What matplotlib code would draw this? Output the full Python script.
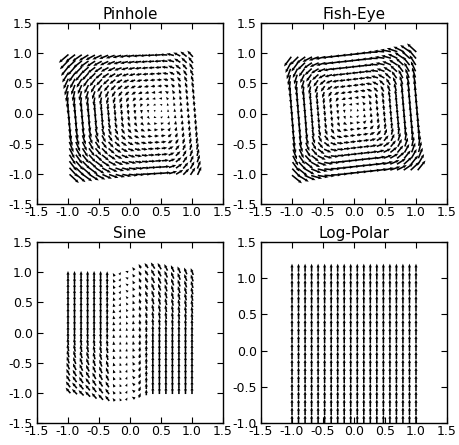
import numpy as np
import matplotlib
matplotlib.use('Agg')
import matplotlib.pyplot as plt

plt.rcParams['font.family'] = ['DejaVu Sans']
plt.rcParams['axes.unicode_minus'] = False

# ---------------- data ----------------
titles = ['Pinhole', 'Fish-Eye', 'Sine', 'Log-Polar']
ticks = [-1.5, -1.0, -0.5, 0.0, 0.5, 1.0, 1.5]
tick_labels = ['-1.5', '-1.0', '-0.5', '0.0', '0.5', '1.0', '1.5']
lp_yticks = [-1.0, -0.5, 0.0, 0.5, 1.0, 1.5]
lp_ytick_labels = ['-1.0', '-0.5', '0.0', '0.5', '1.0', '1.5']

# 20 sample columns / rows of the grid
grid = [-1.0, -0.895, -0.789, -0.684, -0.579, -0.474, -0.368, -0.263, -0.158, -0.053,
        0.053, 0.158, 0.263, 0.368, 0.474, 0.579, 0.684, 0.789, 0.895, 1.0]

# Pinhole / Fish-Eye: corners of sampled quad (TL, TR, BR, BL), vortex centre, tilt
pinhole_corners = [(-1.07, 0.91), (0.97, 0.99), (1.12, -0.95), (-0.90, -1.08)]
pinhole_center = (0.48, 0.05)
pinhole_tilt = 0.064
pinhole_extent = (1.3, 0.6, 0.9, 1.1)      # left, right, top, bottom
fisheye_corners = [(-1.07, 0.86), (0.93, 1.09), (1.09, -0.86), (-0.92, -1.09)]
fisheye_center = (0.0, 0.02)
fisheye_tilt = 0.095
fisheye_extent = (1.0, 1.0, 1.0, 1.0)

# Sine: per column arrow length, top raise, bottom drop, top tilt, bottom tilt
sine_len = [0.12, 0.12, 0.12, 0.12, 0.12, 0.12, 0.11, 0.06, 0.05, 0.05,
            0.06, 0.08, 0.10, 0.12, 0.12, 0.12, 0.12, 0.12, 0.12, 0.12]
sine_raise = [0.0, 0.0, 0.0, 0.0, 0.0, 0.0, 0.0, 0.0, 0.02, 0.05,
              0.10, 0.14, 0.15, 0.15, 0.14, 0.12, 0.10, 0.08, 0.06, 0.05]
sine_drop = [0.0, 0.02, 0.04, 0.06, 0.09, 0.11, 0.13, 0.15, 0.15, 0.14,
             0.12, 0.08, 0.03, 0.0, 0.0, 0.0, 0.0, 0.0, 0.0, 0.0]
sine_top_tilt = [0.0, 0.0, 0.0, 0.0, 0.0, 0.0, 0.0, 0.5, -0.6, 1.2,
                 0.6, 0.5, 0.6, 0.55, 0.5, 0.45, 0.42, 0.4, 0.38, 0.35]
sine_bottom_tilt = [0.7, 0.75, 0.75, 0.75, 0.7, 0.7, 0.65, 0.6, 0.5, -0.5,
                    1.0, -0.4, 0.0, 0.0, 0.0, 0.0, 0.0, 0.0, 0.0, 0.0]

# Log-Polar: column x positions = grid, rows and arrow length
lp_rows = [-1.0, -0.89, -0.78, -0.67, -0.56, -0.45, -0.34, -0.23, -0.12, -0.01,
           0.10, 0.21, 0.32, 0.43, 0.54, 0.65, 0.76, 0.87, 0.98, 1.09]
lp_len = 0.11

# ---------------- helpers ----------------
g = np.array(grid)
GX, GY = np.meshgrid(g, g)


def quad_points(corners):
    tl, tr, br, bl = [np.array(c) for c in corners]
    u = (GX + 1) / 2.0
    v = (GY + 1) / 2.0
    P = ((1 - u)[..., None] * (v[..., None] * tl + (1 - v)[..., None] * bl)
         + u[..., None] * (v[..., None] * tr + (1 - v)[..., None] * br))
    return P[..., 0], P[..., 1]


def vortex(X, Y, center, theta, ext, q, k, floor):
    c, s = np.cos(theta), np.sin(theta)
    dx, dy = X - center[0], Y - center[1]
    lx = c * dx + s * dy
    ly = -s * dx + c * dy
    ex = np.where(lx < 0, ext[0], ext[1])
    ey = np.where(ly > 0, ext[2], ext[3])
    sx, sy = lx / ex, ly / ey
    gx = np.sign(sx) * np.abs(sx) ** (q - 1) / ex
    gy = np.sign(sy) * np.abs(sy) ** (q - 1) / ey
    tx, ty = -gy, gx
    n = np.hypot(tx, ty) + 1e-12
    mag = k * (floor + np.hypot(lx, ly))
    tx, ty = tx / n * mag, ty / n * mag
    return c * tx - s * ty, s * tx + c * ty


qkw = dict(angles='xy', scale_units='xy', scale=1, width=0.0085,
           headwidth=2.0, headlength=2.4, headaxislength=2.2, color='black')

fig = plt.figure(figsize=(4.59, 4.45), dpi=100)
W, H = 186 / 459, 181 / 445
positions = [(37 / 459, (445 - 204) / 445, W, H),
             (261 / 459, (445 - 204) / 445, W, H),
             (37 / 459, (445 - 423) / 445, W, H),
             (261 / 459, (445 - 423) / 445, W, H)]
axes = [fig.add_axes(p) for p in positions]

# Pinhole
X, Y = quad_points(pinhole_corners)
U, V = vortex(X, Y, pinhole_center, pinhole_tilt, pinhole_extent, 2.5, 0.10, 0.3)
axes[0].quiver(X, Y, U, V, pivot='middle', **qkw)

# Fish-Eye
X, Y = quad_points(fisheye_corners)
U, V = vortex(X, Y, fisheye_center, fisheye_tilt, fisheye_extent, 3.5, 0.12, 0.3)
axes[1].quiver(X, Y, U, V, pivot='middle', **qkw)

# Sine
L = np.array(sine_len)[None, :]
yy = GY * 0.96
up = np.clip(GY, 0, None)
dn = np.clip(-GY, 0, None)
Ys = yy + np.array(sine_raise)[None, :] * up - np.array(sine_drop)[None, :] * dn
phi = np.array(sine_top_tilt)[None, :] * up + np.array(sine_bottom_tilt)[None, :] * dn
Us = -L * np.sin(phi)
Vs = L * np.cos(phi)
axes[2].quiver(GX, Ys, Us, Vs, pivot='middle', **qkw)

# Log-Polar
LX, LY = np.meshgrid(g, np.array(lp_rows))
axes[3].quiver(LX, LY, np.zeros_like(LX), np.full_like(LY, lp_len), pivot='tail', **qkw)

for i, ax in enumerate(axes):
    ax.set_xlim(-1.5, 1.5)
    ax.set_xticks(ticks)
    ax.set_xticklabels(tick_labels)
    if i == 3:
        ax.set_ylim(-1.0, 1.5)
        ax.set_yticks(lp_yticks)
        ax.set_yticklabels(lp_ytick_labels)
    else:
        ax.set_ylim(-1.5, 1.5)
        ax.set_yticks(ticks)
        ax.set_yticklabels(tick_labels)
    ax.tick_params(direction='in', top=True, right=True, length=4, width=0.8,
                   labelsize=9, pad=1.5)
    ax.tick_params(axis='y', pad=3)
    for sp in ax.spines.values():
        sp.set_linewidth(1.0)
    ax.set_title(titles[i], fontsize=11, pad=3)

fig.savefig('out.png', dpi=100)
